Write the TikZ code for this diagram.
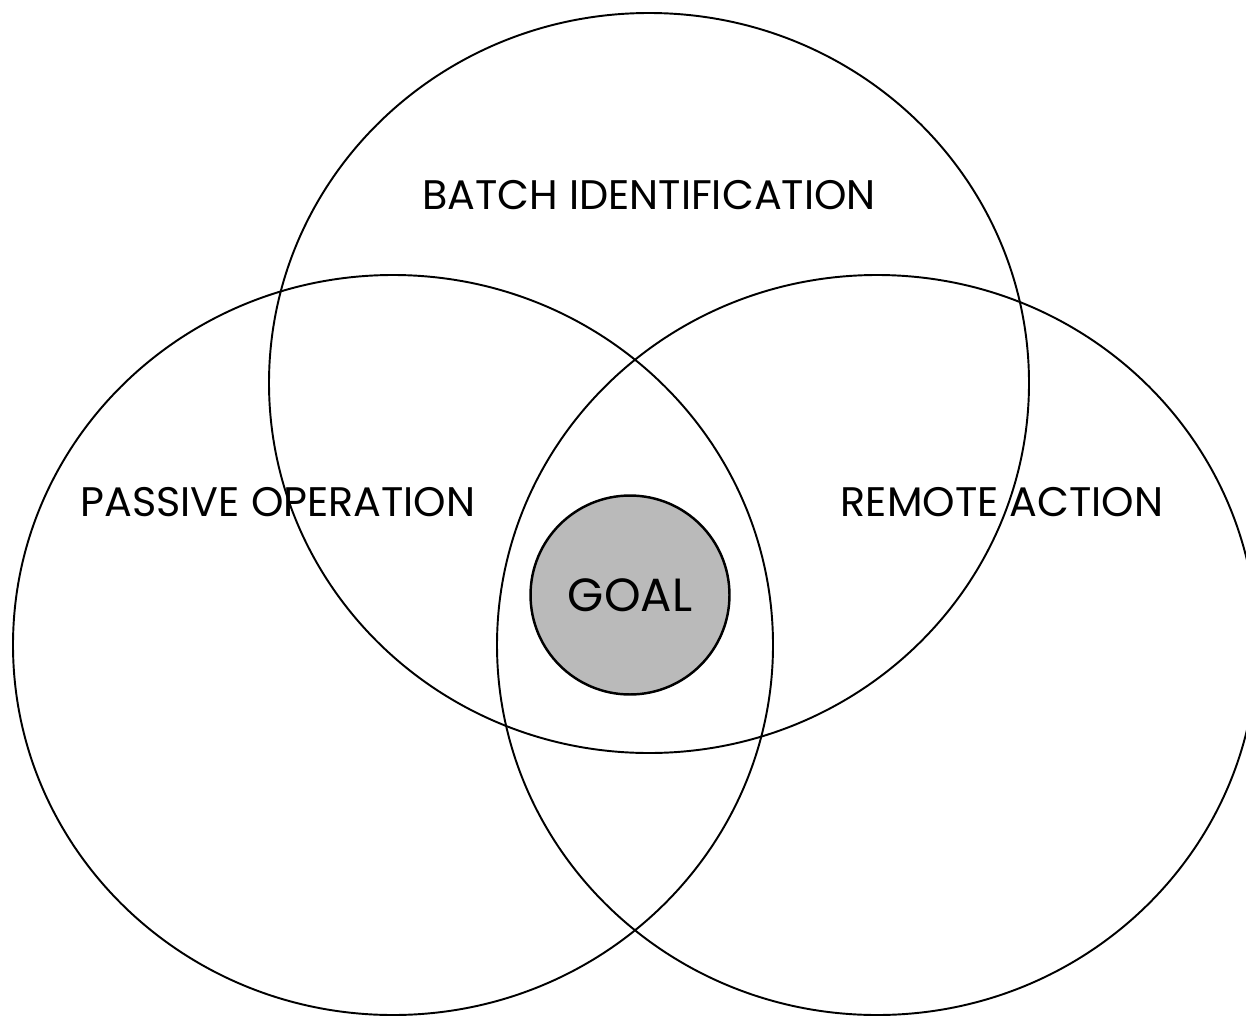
\documentclass[tikz,border=0pt]{standalone}
\usepackage{fontspec}
\setmainfont{Poppins}
\usetikzlibrary{positioning}

\begin{document}
\begin{tikzpicture}[
  x=0.02cm, y=-0.02cm,
  ring/.style={draw, line width=1.1pt},
  lbl/.style={font=\fontsize{23.5}{28}\selectfont, inner sep=0pt},
  goal/.style={circle, draw, line width=1.4pt, fill=black!27,
               minimum size=3.98cm, inner sep=0pt,
               font=\fontsize{26.5}{30}\selectfont},
]
\clip (0,0) rectangle (1246,1017);

% the three areas
\draw[ring] (649,383) ellipse [x radius=380, y radius=370];
\draw[ring] (393,645) ellipse [x radius=380, y radius=370];
\draw[ring] (877,645) ellipse [x radius=380, y radius=370];

\node[lbl] (batch) at (649,195) {BATCH IDENTIFICATION};
\node[lbl] (passive) at (278,502) {PASSIVE OPERATION};
\node[lbl] (remote) at (1002,502) {REMOTE ACTION};

% common part
\node[goal] (target) at (630,595) {GOAL};
\end{tikzpicture}
\end{document}
